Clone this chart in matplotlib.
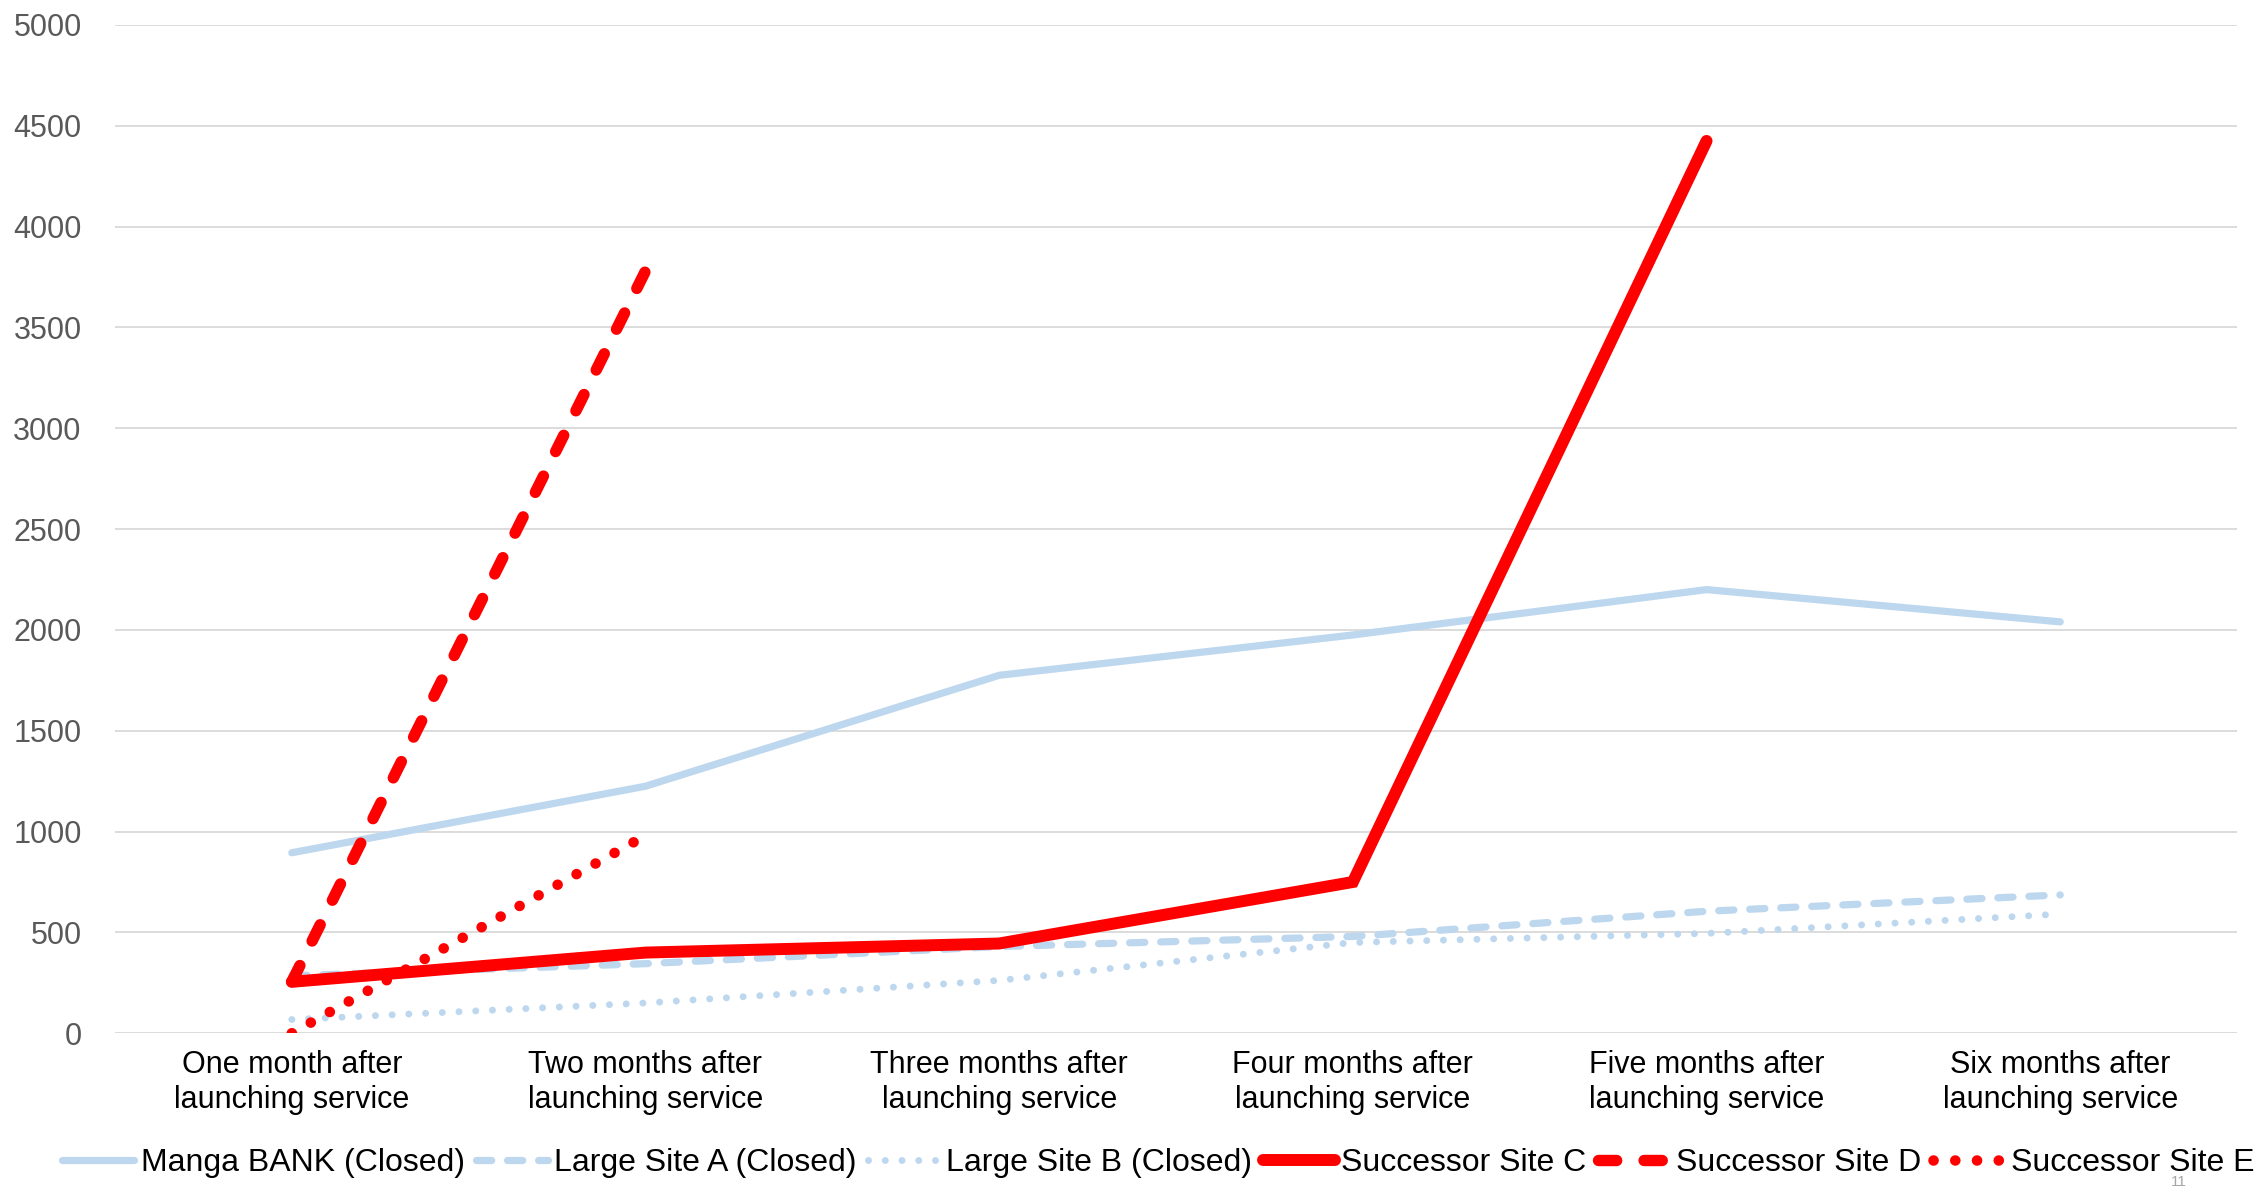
import matplotlib
matplotlib.use("Agg")
import matplotlib.pyplot as plt

plt.rcParams['font.family'] = ['Liberation Sans', 'DejaVu Sans']

# カテゴリ（サービス開始からの月数）
categories = [
    "One month after\nlaunching service",
    "Two months after\nlaunching service",
    "Three months after\nlaunching service",
    "Four months after\nlaunching service",
    "Five months after\nlaunching service",
    "Six months after\nlaunching service",
]

# 各サイトの値
manga_bank = [895, 1225, 1775, 1975, 2200, 2040]
large_site_a = [285, 345, 430, 480, 605, 686]
large_site_b = [68, 150, 262, 450, 495, 591]
successor_c = [255, 400, 445, 750, 4425]
successor_d = [255, 3780]
successor_e = [0, 980]

y_ticks = [0, 500, 1000, 1500, 2000, 2500, 3000, 3500, 4000, 4500, 5000]

blue = '#BDD7EE'
red = '#FF0000'

fig = plt.figure(figsize=(22.54, 11.89), dpi=100)
ax = fig.add_axes([0.051, 0.131, 0.9415, 0.848])

x = list(range(len(categories)))

ax.plot(x, manga_bank, color=blue, lw=5.2, solid_capstyle='round',
        label='Manga BANK (Closed)', zorder=3)
ax.plot(x, large_site_a, color=blue, lw=5.2, dashes=(2.1, 2.2),
        dash_capstyle='round', label='Large Site A (Closed)', zorder=3)
ax.plot(x, large_site_b, color=blue, lw=5.0, dashes=(0.01, 2.4),
        dash_capstyle='round', label='Large Site B (Closed)', zorder=3)
ax.plot(x[:len(successor_c)], successor_c, color=red, lw=8.6,
        solid_capstyle='round', solid_joinstyle='miter',
        label='Successor Site C', zorder=5)
ax.plot(x[:len(successor_d)], successor_d, color=red, lw=8.2,
        dashes=(1.6, 2.4), dash_capstyle='round',
        label='Successor Site D', zorder=4)
ax.plot(x[:len(successor_e)], successor_e, color=red, lw=7.6,
        dashes=(0.01, 2.05), dash_capstyle='round',
        label='Successor Site E', zorder=4)

ax.set_xlim(-0.5, len(categories) - 0.5)
ax.set_ylim(0, 5000)
ax.set_yticks(y_ticks)
ax.set_xticks(x)
ax.set_xticklabels(categories, fontsize=22, color='black', linespacing=1.2)
ax.tick_params(axis='y', labelsize=22, labelcolor='#595959', length=0, pad=24)
ax.tick_params(axis='x', length=0, pad=12)

ax.grid(axis='y', color='#D9D9D9', lw=1.3, zorder=0)
ax.set_axisbelow(True)
for s in ax.spines.values():
    s.set_visible(False)

leg = fig.legend(loc='center left', bbox_to_anchor=(0.022, 0.022), ncol=6,
                 frameon=False, fontsize=23, handlelength=2.25,
                 handletextpad=0.2, columnspacing=0.35, borderaxespad=0)

fig.text(0.963, 0.0, '11', fontsize=11, color='#A6A6A6', va='bottom')

fig.savefig('out.png', dpi=100)
